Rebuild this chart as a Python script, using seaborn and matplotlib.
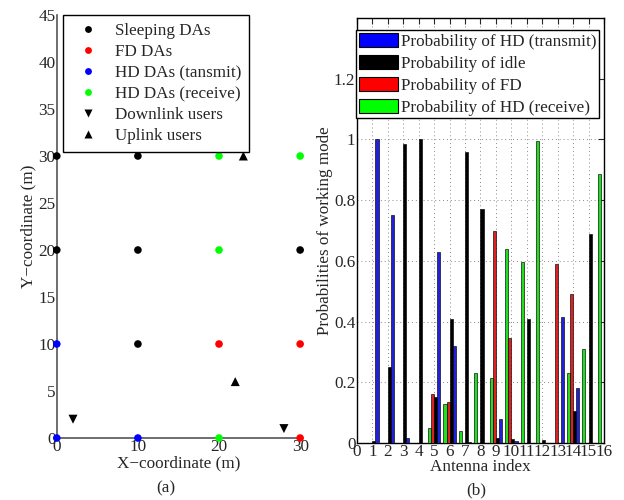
"""
plot.py - DA layout (a) and per-antenna working mode probabilities (b)
"""

import matplotlib

matplotlib.use("Agg")

import matplotlib.pyplot as plt
from matplotlib.patches import Patch
import pandas as pd
import seaborn as sns


# (a) layout of distributed antennas and users
sleeping_x = [0, 10, 0, 10, 30, 10]
sleeping_y = [30, 30, 20, 20, 20, 10]
fd_x = [20, 30, 30]
fd_y = [10, 10, 0]
hd_tx_x = [0, 0, 10]
hd_tx_y = [10, 0, 0]
hd_rx_x = [20, 30, 20, 20]
hd_rx_y = [30, 30, 20, 0]
down_x = [2, 28]
down_y = [2, 1]
up_x = [23, 22]
up_y = [30, 6]

layout_labels = ["Sleeping DAs", "FD DAs", "HD DAs (tansmit)", "HD DAs (receive)",
                 "Downlink users", "Uplink users"]

# (b) probabilities per antenna index
antenna = list(range(1, 17))
p_receive = [0, 0, 0, 0, 0.05, 0.13, 0.04, 0.23, 0.215, 0.64, 0.595, 0.995, 0, 0.23, 0.31, 0.885]
p_fd = [0, 0, 0, 0, 0.16, 0.135, 0, 0, 0.70, 0.345, 0, 0, 0.59, 0.49, 0, 0]
p_idle = [0.005, 0.25, 0.985, 1.0, 0.15, 0.41, 0.96, 0.77, 0.015, 0.012, 0.41, 0.01, 0, 0.105, 0.69, 0]
p_transmit = [1.0, 0.75, 0.015, 0, 0.63, 0.32, 0.003, 0, 0.08, 0.008, 0, 0, 0.415, 0.18, 0, 0]

mode_labels = ["Probability of HD (transmit)", "Probability of idle",
               "Probability of FD", "Probability of HD (receive)"]


def build_frames():
    groups = [(sleeping_x, sleeping_y), (fd_x, fd_y), (hd_tx_x, hd_tx_y),
              (hd_rx_x, hd_rx_y), (down_x, down_y), (up_x, up_y)]
    rows = []
    for label, (xs, ys) in zip(layout_labels, groups):
        for x, y in zip(xs, ys):
            rows.append({"x": x, "y": y, "kind": label})
    layout_df = pd.DataFrame(rows)

    rows = []
    for label, vals in zip(mode_labels, [p_transmit, p_idle, p_fd, p_receive]):
        for a, v in zip(antenna, vals):
            rows.append({"antenna": a, "prob": v, "mode": label})
    prob_df = pd.DataFrame(rows)
    return layout_df, prob_df


def main():
    layout_df, prob_df = build_frames()

    sns.set_theme(style="white")
    plt.rcParams["font.family"] = ["Liberation Serif", "DejaVu Serif"]
    plt.rcParams["xtick.direction"] = "in"
    plt.rcParams["ytick.direction"] = "in"
    plt.rcParams["axes.edgecolor"] = "black"

    fig = plt.figure(figsize=(6.24, 5.0), dpi=100)
    fs = 12.3

    # ---- (a)
    ax1 = fig.add_axes([0.091, 0.124, 0.39, 0.846])
    point_colors = {"Sleeping DAs": "black", "FD DAs": "#ff0000", "HD DAs (tansmit)": "#0000ff",
                    "HD DAs (receive)": "#00ff00", "Downlink users": "black", "Uplink users": "black"}
    point_markers = {"Sleeping DAs": "o", "FD DAs": "o", "HD DAs (tansmit)": "o",
                     "HD DAs (receive)": "o", "Downlink users": "v", "Uplink users": "^"}
    point_sizes = {"Sleeping DAs": 30, "FD DAs": 30, "HD DAs (tansmit)": 30,
                   "HD DAs (receive)": 30, "Downlink users": 42, "Uplink users": 42}
    sns.scatterplot(data=layout_df, x="x", y="y", hue="kind", style="kind", size="kind",
                    hue_order=layout_labels, style_order=layout_labels, size_order=layout_labels,
                    palette=point_colors, markers=point_markers, sizes=point_sizes,
                    edgecolor="none", clip_on=False, zorder=3, ax=ax1)
    ax1.set_xlim(0, 30)
    ax1.set_ylim(0, 45)
    ax1.set_xticks([0, 10, 20, 30])
    ax1.set_yticks(range(0, 46, 5))
    ax1.tick_params(labelsize=fs, length=4, width=0.8, color="#555555", pad=1)
    for side in ["top", "right"]:
        ax1.spines[side].set_visible(False)
    for side in ["left", "bottom"]:
        ax1.spines[side].set_color("#555555")
        ax1.spines[side].set_linewidth(1.2)
    ax1.set_xlabel("X\u2212coordinate (m)", fontsize=fs, labelpad=0)
    ax1.set_ylabel("Y\u2212coordinate (m)", fontsize=fs, labelpad=1)
    handles, labels = ax1.get_legend_handles_labels()
    leg1 = ax1.legend(handles, labels, loc="upper left", bbox_to_anchor=(0.101, 0.97),
                      bbox_transform=fig.transFigure, borderaxespad=0, fontsize=fs,
                      fancybox=False, framealpha=1, edgecolor="black", labelspacing=0.3,
                      handletextpad=0.6, borderpad=0.45, handlelength=2.0, markerscale=0.9)
    leg1.get_frame().set_linewidth(1.0)

    # ---- (b)
    ax2 = fig.add_axes([0.572, 0.114, 0.396, 0.85])
    bar_colors = {"Probability of HD (transmit)": "#0000ff", "Probability of idle": "black",
                  "Probability of FD": "#ff0000", "Probability of HD (receive)": "#00ff00"}
    bar_order = ["Probability of HD (receive)", "Probability of FD",
                 "Probability of idle", "Probability of HD (transmit)"]
    sns.barplot(data=prob_df, x="antenna", y="prob", hue="mode", hue_order=bar_order,
                palette=bar_colors, native_scale=True, width=0.8, errorbar=None,
                edgecolor="black", linewidth=0.45, legend=False, ax=ax2, zorder=3)
    ax2.set_xlim(0, 16)
    ax2.set_ylim(0, 1.4)
    ax2.set_xticks(range(0, 17))
    ax2.set_xticklabels([str(i) for i in range(0, 17)])
    ax2.set_yticks([0, 0.2, 0.4, 0.6, 0.8, 1.0, 1.2])
    ax2.set_yticklabels(["0", "0.2", "0.4", "0.6", "0.8", "1", "1.2"])
    ax2.tick_params(labelsize=fs, length=4, width=0.8, top=True, right=True, pad=1)
    for side in ax2.spines:
        ax2.spines[side].set_color("black")
        ax2.spines[side].set_linewidth(1.0)
    ax2.grid(True, linestyle=(0, (1, 3)), color="#888888", linewidth=0.7)
    ax2.set_axisbelow(True)
    ax2.set_xlabel("Antenna index", fontsize=fs, labelpad=-1)
    ax2.set_ylabel("Probabilities of working mode", fontsize=fs, labelpad=1)
    patches = [Patch(facecolor=bar_colors[m], edgecolor="black", linewidth=0.8) for m in mode_labels]
    leg2 = ax2.legend(patches, mode_labels, loc="upper left", bbox_to_anchor=(0.5705, 0.94),
                      bbox_transform=fig.transFigure, borderaxespad=0, fontsize=fs,
                      fancybox=False, framealpha=1, edgecolor="black", labelspacing=0.28,
                      handlelength=2.3, handleheight=0.95, handletextpad=0.2, borderpad=0.15)
    leg2.get_frame().set_linewidth(1.0)

    fig.text(0.265, 0.024, "(a)", ha="center", va="center", fontsize=fs)
    fig.text(0.763, 0.02, "(b)", ha="center", va="center", fontsize=fs)

    fig.savefig("out.png", dpi=100)
    plt.close(fig)


if __name__ == "__main__":
    main()
